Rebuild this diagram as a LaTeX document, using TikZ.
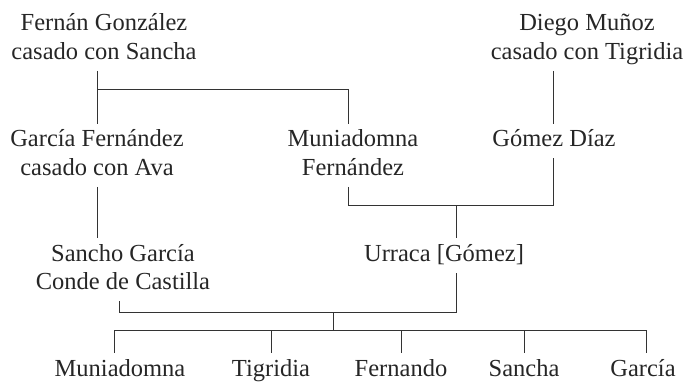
\documentclass[tikz,border=0pt]{standalone}
\usepackage{fontspec}
\setmainfont{Liberation Serif}
\begin{document}
\begin{tikzpicture}[x=1pt,y=-1pt,
  person/.style={anchor=base,inner xsep=0pt,inner ysep=3pt,text=black!85,
    font=\fontsize{24.5}{28.5}\selectfont},
  link/.style={draw=black!80,line width=0.9pt}]
\useasboundingbox (0,0) rectangle (687,381);
\newcommand{\twolines}[2]{\begin{tabular}[t]{@{}c@{}}#1\\#2\end{tabular}}
\newcommand{\oneline}[1]{\begin{tabular}[t]{@{}c@{}}#1\end{tabular}}
% people
\node[person] (fg) at (104,30.7) {\twolines{Fernán González}{casado con Sancha}};
\node[person] (dm) at (587,30.7) {\twolines{Diego Muñoz}{casado con Tigridia}};
\node[person] (gf) at (97,146.7) {\twolines{García Fernández}{casado con Ava}};
\node[person] (mf) at (353,146.7) {\twolines{Muniadomna}{Fernández}};
\node[person] (gd) at (554,146.7) {\oneline{Gómez Díaz}};
\node[person] (sg) at (123,261) {\twolines{Sancho García}{Conde de Castilla}};
\node[person] (ur) at (444,261) {\oneline{Urraca [Gómez]}};
\node[person] (k1) at (120,376) {\oneline{Muniadomna}};
\node[person] (k2) at (271,376) {\oneline{Tigridia}};
\node[person] (k3) at (401,376) {\oneline{Fernando}};
\node[person] (k4) at (524,376) {\oneline{Sancha}};
\node[person] (k5) at (643,376) {\oneline{García}};
% junctions
\coordinate (a1) at (97.7,89);
\coordinate (a2) at (348,89);
\coordinate (b1) at (348,205);
\coordinate (b2) at (553.5,205);
\coordinate (b3) at (456,205);
\coordinate (c1) at (119.3,312);
\coordinate (c2) at (456,312);
\coordinate (c3) at (333,312);
\coordinate (c4) at (333,330);
\coordinate (d1) at (114.5,330);
\coordinate (d2) at (271.7,330);
\coordinate (d3) at (401.7,330);
\coordinate (d4) at (524,330);
\coordinate (d5) at (646.7,330);
% connectors
\draw[link] (fg.south -| a1) -- (a1) -- (a2) -- (mf.north -| a2);
\draw[link] (a1) -- (gf.north -| a1);
\draw[link] (gf.south -| a1) -- (sg.north -| a1);
\draw[link] (dm.south -| b2) -- (gd.north -| b2);
\draw[link] (mf.south -| b1) -- (b1) -- (b2) -- (gd.south -| b2);
\draw[link] (b3) -- (ur.north -| b3);
\draw[link] (sg.south -| c1) -- (c1) -- (c2) -- (ur.south -| c2);
\draw[link] (c3) -- (c4);
\draw[link] (d1) -- (d5);
\draw[link] (d1) -- (k1.north -| d1);
\draw[link] (d2) -- (k2.north -| d2);
\draw[link] (d3) -- (k3.north -| d3);
\draw[link] (d4) -- (k4.north -| d4);
\draw[link] (d5) -- (k5.north -| d5);
\end{tikzpicture}
\end{document}
